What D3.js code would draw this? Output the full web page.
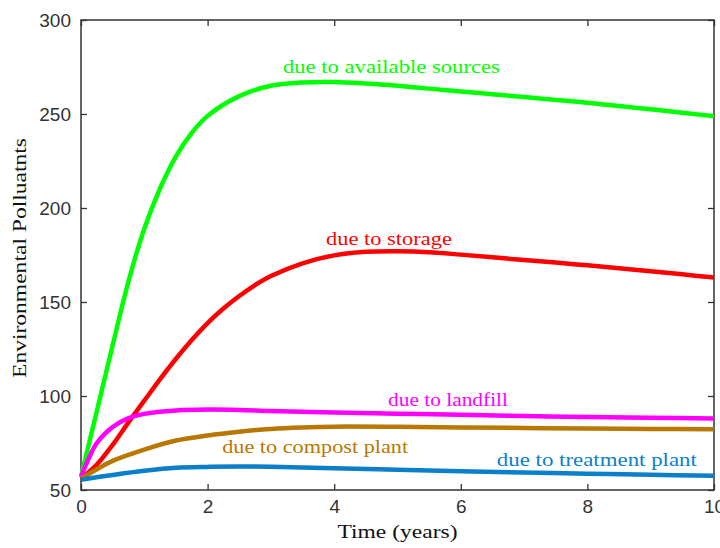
<!DOCTYPE html>
<html>
<head>
<meta charset="utf-8">
<script src="https://cdn.jsdelivr.net/npm/d3@7"></script>
<style>
  html, body { margin: 0; padding: 0; background: #fff; }
  svg { display: block; }
</style>
</head>
<body>
<svg id="chart" width="720" height="548"></svg>
<script>
// ---- data ----
const xTicks = [0, 2, 4, 6, 8, 10];
const yTicks = [50, 100, 150, 200, 250, 300];

const tAvailable = [0, 0.25, 0.5, 0.75, 1, 1.25, 1.5, 1.75, 2, 2.5, 3, 3.5, 4, 4.5, 5, 5.5, 6, 6.5, 7, 7.5, 8, 8.5, 9, 9.5, 10];
const available  = [57, 92, 127, 161, 189, 210.5, 227.5, 240, 249, 259.5, 265, 266.8, 267, 266.2, 265, 263.5, 262, 260.5, 259, 257.5, 256, 254.2, 252.5, 250.7, 248.8];

const tStorage = [0, 0.25, 0.5, 0.75, 1, 1.25, 1.5, 1.75, 2, 2.25, 2.5, 2.75, 3, 3.5, 4, 4.5, 5, 5.5, 6, 6.5, 7, 7.5, 8, 8.5, 9, 9.5, 10];
const storage  = [56, 63.5, 74, 86, 97.5, 109, 119.8, 129.8, 138.8, 146.5, 153.2, 159, 163.8, 170.6, 174.8, 176.7, 177, 176.5, 175.2, 173.8, 172.3, 171, 169.5, 168, 166.3, 164.7, 163];

const tLandfill = [0, 0.125, 0.25, 0.5, 0.75, 1, 1.5, 2, 2.5, 3, 4, 5, 6, 7, 8, 9, 10];
const landfill  = [57, 67, 75, 83.5, 88.2, 90.5, 92.3, 92.8, 92.6, 92, 91.2, 90.6, 90, 89.3, 88.8, 88.4, 88];

const tCompost = [0, 0.25, 0.5, 1, 1.5, 2, 2.5, 3, 3.5, 4, 5, 6, 7, 8, 9, 10];
const compost  = [56, 61, 65.5, 71.5, 76.3, 79, 81, 82.5, 83.3, 83.7, 83.6, 83.3, 83, 82.7, 82.5, 82.3];

const tTreatment = [0, 0.5, 1, 1.5, 2, 2.5, 3, 4, 5, 6, 7, 8, 9, 10];
const treatment  = [55.5, 58, 60.2, 61.8, 62.3, 62.5, 62.4, 61.6, 60.8, 60, 59.3, 58.7, 58.1, 57.6];

const seriesNames = ["due to available sources", "due to storage", "due to landfill", "due to compost plant", "due to treatment plant"];
const seriesColors = ["#00ff00", "#ff0000", "#ff00ff", "#b87800", "#0a80cc"];

// ---- layout ----
const svg = d3.select("#chart");
const L = 81, R = 714, T = 20, B = 490;
const x = d3.scaleLinear().domain([0, 10]).range([L, R]);
const y = d3.scaleLinear().domain([50, 300]).range([B, T]);
const axisColor = "#333";
const tickFont = "'Liberation Sans', Arial, sans-serif";
const serif = "'Liberation Serif', 'Times New Roman', serif";

// box
svg.append("rect").attr("x", L).attr("y", T).attr("width", R - L).attr("height", B - T)
  .attr("fill", "none").attr("stroke", axisColor).attr("stroke-width", 1.5);

function styleAxis(g, labels) {
  g.select(".domain").remove();
  g.selectAll(".tick line").attr("stroke", axisColor).attr("stroke-width", 1.3);
  g.selectAll(".tick text").attr("fill", "#333").style("font-family", tickFont).style("font-size", "19px");
  if (!labels) g.selectAll(".tick text").remove();
}

svg.append("g").attr("transform", `translate(0,${B})`)
  .call(d3.axisBottom(x).tickValues(xTicks).tickFormat(d3.format("d")).tickSizeInner(-6).tickSizeOuter(0).tickPadding(10))
  .call(g => styleAxis(g, true));
svg.append("g").attr("transform", `translate(0,${T})`)
  .call(d3.axisTop(x).tickValues(xTicks).tickSizeInner(-6).tickSizeOuter(0))
  .call(g => styleAxis(g, false));
svg.append("g").attr("transform", `translate(${L},0)`)
  .call(d3.axisLeft(y).tickValues(yTicks).tickFormat(d3.format("d")).tickSizeInner(-6).tickSizeOuter(0).tickPadding(10))
  .call(g => styleAxis(g, true));
svg.append("g").attr("transform", `translate(${R},0)`)
  .call(d3.axisRight(y).tickValues(yTicks).tickSizeInner(-6).tickSizeOuter(0))
  .call(g => styleAxis(g, false));

// lines
const allSeries = [
  [tAvailable, available],
  [tStorage, storage],
  [tLandfill, landfill],
  [tCompost, compost],
  [tTreatment, treatment]
];
const line = d3.line().x(d => x(d[0])).y(d => y(d[1])).curve(d3.curveCatmullRom.alpha(0.5));
allSeries.forEach((s, i) => {
  const pts = s[0].map((t, k) => [t, s[1][k]]);
  svg.append("path").datum(pts).attr("d", line)
    .attr("fill", "none").attr("stroke", seriesColors[i]).attr("stroke-width", 4.5)
    .attr("stroke-linejoin", "round").attr("stroke-linecap", "butt");
});

// annotations: [series index, x (time), y (value), pixel width]
const labelPos = [
  [0, 3.19, 271.8, 217],
  [1, 3.87, 180.3, 126],
  [2, 4.85, 94.7, 120],
  [3, 2.23, 69.7, 186],
  [4, 6.57, 62.8, 200]
];
labelPos.forEach(([i, tx, vy, w]) => {
  svg.append("text").attr("x", x(tx)).attr("y", y(vy))
    .attr("fill", seriesColors[i])
    .attr("textLength", w).attr("lengthAdjust", "spacingAndGlyphs")
    .style("font-family", serif).style("font-size", "18.5px")
    .text(seriesNames[i]);
});

// axis titles
svg.append("text").attr("x", (L + R) / 2).attr("y", 538).attr("text-anchor", "middle")
  .attr("textLength", 120).attr("lengthAdjust", "spacingAndGlyphs")
  .attr("fill", "#111").style("font-family", serif).style("font-size", "18.5px")
  .text("Time (years)");
svg.append("text").attr("transform", `translate(26,${(T + B) / 2 + 3}) rotate(-90)`)
  .attr("text-anchor", "middle")
  .attr("textLength", 240).attr("lengthAdjust", "spacingAndGlyphs")
  .attr("fill", "#111").style("font-family", serif).style("font-size", "18.5px")
  .text("Environmental Polluatnts");
</script>
</body>
</html>
